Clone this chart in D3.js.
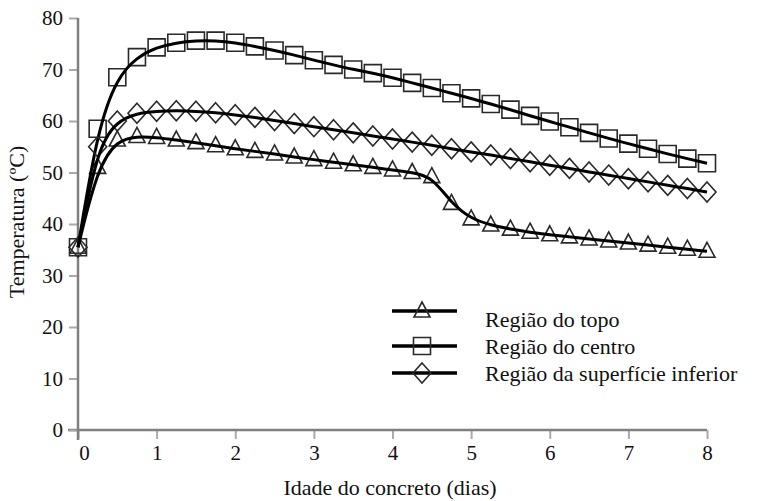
<!DOCTYPE html>
<html>
<head>
<meta charset="utf-8">
<script src="https://cdn.jsdelivr.net/npm/d3@7"></script>
<style>
  body { margin: 0; background: #fff; }
  svg text { font-family: "Liberation Serif", Tinos, "Times New Roman", "DejaVu Serif", serif !important; }
</style>
</head>
<body>
<svg id="chart" width="761" height="501"></svg>
<script>
// idade do concreto (dias), one marker every 0.25 day
var days = d3.range(0, 8.001, 0.25);

var topo = [35.5, 51.0, 56.3, 57.0, 56.8, 56.3, 55.8, 55.2, 54.6, 54.1, 53.6, 53.0, 52.5,
  52.0, 51.5, 51.0, 50.5, 50.0, 49.2, 44.0, 41.0, 39.8, 39.0, 38.4, 37.9, 37.5, 37.1,
  36.7, 36.3, 35.9, 35.5, 35.1, 34.7];

var centro = [35.5, 58.5, 68.5, 72.4, 74.3, 75.2, 75.6, 75.6, 75.2, 74.5, 73.7, 72.8, 71.8,
  70.9, 70.0, 69.3, 68.4, 67.4, 66.4, 65.4, 64.4, 63.3, 62.2, 61.0, 59.9, 58.8, 57.7,
  56.6, 55.6, 54.6, 53.6, 52.7, 51.8];

var inferior = [35.5, 55.0, 60.0, 61.5, 61.9, 62.0, 61.9, 61.6, 61.2, 60.7, 60.1, 59.5, 58.9,
  58.3, 57.7, 57.1, 56.5, 55.9, 55.3, 54.6, 54.0, 53.4, 52.7, 52.1, 51.4, 50.8, 50.1,
  49.5, 48.8, 48.2, 47.5, 46.9, 46.2];

var seriesNames = ["Região do topo", "Região do centro", "Região da superfície inferior"];
var seriesShapes = ["triangle", "square", "diamond"];
var xTicks = [0, 1, 2, 3, 4, 5, 6, 7, 8];
var yTicks = [0, 10, 20, 30, 40, 50, 60, 70, 80];

var svg = d3.select("#chart");

var x = d3.scaleLinear().domain([0, 8]).range([78, 707]);
var y = d3.scaleLinear().domain([0, 80]).range([430, 18]);

var axisColor = "#808080";

// axes
var xAxis = svg.append("g")
    .attr("transform", "translate(0,430)")
    .call(d3.axisBottom(x).tickValues(xTicks).tickSize(9).tickFormat(d3.format("d")));
xAxis.select(".domain").remove();
xAxis.append("line")
    .attr("x1", 68).attr("x2", x(8))
    .attr("stroke", axisColor).attr("stroke-width", 2.5);
xAxis.selectAll(".tick line").attr("stroke", "#aaa").attr("stroke-width", 2);
xAxis.selectAll(".tick text")
    .attr("fill", "#111").attr("font-size", 21).attr("y", 15)
    .attr("dx", d => d === 0 ? 6 : 0);

var yAxis = svg.append("g")
    .attr("transform", "translate(78,0)")
    .call(d3.axisLeft(y).tickValues(yTicks).tickSize(9));
yAxis.select(".domain").remove();
yAxis.append("line")
    .attr("y1", y(80)).attr("y2", 440)
    .attr("stroke", axisColor).attr("stroke-width", 2.5);
yAxis.selectAll(".tick line").attr("stroke", "#aaa").attr("stroke-width", 2);
yAxis.selectAll(".tick text")
    .attr("fill", "#111").attr("font-size", 21).attr("x", -15).attr("dy", "0.33em");

svg.append("text")
    .attr("x", 390).attr("y", 495)
    .attr("text-anchor", "middle")
    .attr("font-size", 22).attr("fill", "#111")
    .text("Idade do concreto (dias)");

svg.append("text")
    .attr("transform", "translate(24,222) rotate(-90)")
    .attr("text-anchor", "middle")
    .attr("font-size", 22).attr("fill", "#111")
    .text("Temperatura (ºC)");

// marker shapes
function shapePath(shape) {
  if (shape === "triangle") return "M0,-9L8,6L-8,6Z";
  if (shape === "square") return "M-8.5,-8.5H8.5V8.5H-8.5Z";
  return "M0,-10L9,0L0,10L-9,0Z";
}

var allSeries = [topo, centro, inferior];
var line = d3.line()
    .x(d => x(d[0]))
    .y(d => y(d[1]))
    .curve(d3.curveBasis);

allSeries.forEach(function(vals, i) {
  var pts = days.map((d, j) => [d, vals[j]]);
  svg.append("g").selectAll("path")
      .data(pts)
      .enter().append("path")
      .attr("transform", d => "translate(" + x(d[0]) + "," + y(d[1]) + ")")
      .attr("d", shapePath(seriesShapes[i]))
      .attr("fill", "none")
      .attr("stroke", "#2a2a2a")
      .attr("stroke-width", 1.6);
  svg.append("path")
      .datum(pts)
      .attr("d", line)
      .attr("fill", "none")
      .attr("stroke", "#000")
      .attr("stroke-width", 3);
});

// legend
var legendY = [311, 346, 373];
var legend = svg.append("g");
seriesNames.forEach(function(name, i) {
  var g = legend.append("g").attr("transform", "translate(0," + legendY[i] + ")");
  g.append("line")
      .attr("x1", 392).attr("x2", 457)
      .attr("stroke", "#000").attr("stroke-width", 3.5);
  g.append("path")
      .attr("transform", "translate(422,0)")
      .attr("d", shapePath(seriesShapes[i]))
      .attr("fill", "none").attr("stroke", "#2a2a2a").attr("stroke-width", 1.6);
  g.append("text")
      .attr("x", 485).attr("y", i === 0 ? 8 : 0).attr("dy", "0.35em")
      .attr("font-size", 22).attr("fill", "#111")
      .text(name);
});
</script>
</body>
</html>
